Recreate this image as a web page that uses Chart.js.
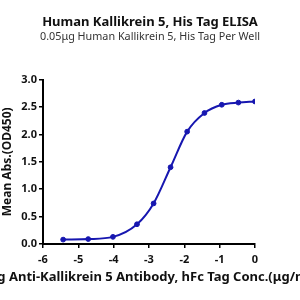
<!DOCTYPE html>
<html>
<head>
<meta charset="utf-8">
<script src="https://cdn.jsdelivr.net/npm/chart.js@4/dist/chart.umd.min.js"></script>
<style>
  html, body { margin: 0; padding: 0; background: #fff; }
  #wrap { width: 300px; height: 300px; }
</style>
</head>
<body>
<div id="wrap"><canvas id="elisa" width="300" height="300"></canvas></div>
<script>
// log10 concentration (ug/ml) and mean OD450
const logConc = [-5.43, -4.72, -4.02, -3.34, -2.87, -2.39, -1.92, -1.43, -0.94, -0.47, 0.0];
const meanAbs = [0.08, 0.09, 0.13, 0.36, 0.74, 1.40, 2.05, 2.39, 2.54, 2.58, 2.60];
const xTicks = [-6, -5, -4, -3, -2, -1, 0];
const yTicks = [0, 0.5, 1, 1.5, 2, 2.5, 3];
const xTitle = "Log Anti-Kallikrein 5 Antibody, hFc Tag Conc.(\u03bcg/ml)";

const FONT = "'Noto Sans', 'Open Sans', sans-serif";
const BLUE = "#1717b0";

const points = logConc.map((x, i) => ({ x: x, y: meanAbs[i] }));

// the built-in axis title squeezes long text to fit, so draw this one by hand
const xTitlePlugin = {
  id: "xTitle",
  afterDraw(chart) {
    const { ctx, chartArea } = chart;
    ctx.save();
    ctx.font = "bold 13px " + FONT;
    ctx.fillStyle = "#111";
    ctx.textAlign = "center";
    ctx.textBaseline = "middle";
    ctx.fillText(xTitle, (chartArea.left + chartArea.right) / 2, 277);
    ctx.restore();
  }
};

new Chart(document.getElementById("elisa"), {
  type: "scatter",
  data: {
    datasets: [{
      data: points,
      showLine: true,
      cubicInterpolationMode: "monotone",
      borderColor: BLUE,
      backgroundColor: BLUE,
      borderWidth: 2,
      pointRadius: 2.4,
      pointBorderWidth: 1,
      pointHoverRadius: 2.4
    }]
  },
  plugins: [xTitlePlugin],
  options: {
    responsive: false,
    animation: false,
    layout: { padding: 0 },
    plugins: {
      legend: { display: false },
      tooltip: { enabled: false },
      title: {
        display: true,
        text: "Human Kallikrein 5, His Tag ELISA",
        color: "#111",
        font: { family: FONT, size: 13, weight: "bold", lineHeight: 1.2 },
        padding: { top: 14, bottom: 0 }
      },
      subtitle: {
        display: true,
        text: "0.05\u03bcg Human Kallikrein 5, His Tag Per Well",
        color: "#333",
        font: { family: FONT, size: 10.8, lineHeight: 1.2 },
        padding: { top: 1, bottom: 36 }
      }
    },
    scales: {
      x: {
        type: "linear",
        min: xTicks[0],
        max: xTicks[xTicks.length - 1],
        afterBuildTicks: s => { s.ticks = xTicks.map(v => ({ value: v })); },
        afterFit: s => { s.height = 56; },
        border: { color: "#000", width: 2 },
        grid: { drawOnChartArea: false, drawTicks: true, tickLength: 4, color: "#000", lineWidth: 1.5 },
        ticks: {
          color: "#111",
          padding: 5,
          font: { family: FONT, size: 11, weight: "bold" },
          callback: v => String(v)
        }
      },
      y: {
        min: yTicks[0],
        max: yTicks[yTicks.length - 1],
        afterBuildTicks: s => { s.ticks = yTicks.map(v => ({ value: v })); },
        afterFit: s => { s.width = 43; },
        border: { color: "#000", width: 2 },
        grid: { drawOnChartArea: false, drawTicks: true, tickLength: 4, color: "#000", lineWidth: 1.5 },
        ticks: {
          color: "#111",
          padding: 2,
          font: { family: FONT, size: 11, weight: "bold" },
          callback: v => v.toFixed(1)
        },
        title: {
          display: true,
          text: "Mean Abs.(OD450)",
          color: "#111",
          font: { family: FONT, size: 12, weight: "bold" },
          padding: { top: 0, bottom: 2 }
        }
      },
      // empty right-hand axis, only there to leave white space right of the plot
      spacer: {
        position: "right",
        display: true,
        afterFit: s => { s.width = 45; },
        border: { display: false },
        grid: { display: false },
        ticks: { display: false }
      }
    }
  }
});
</script>
</body>
</html>
